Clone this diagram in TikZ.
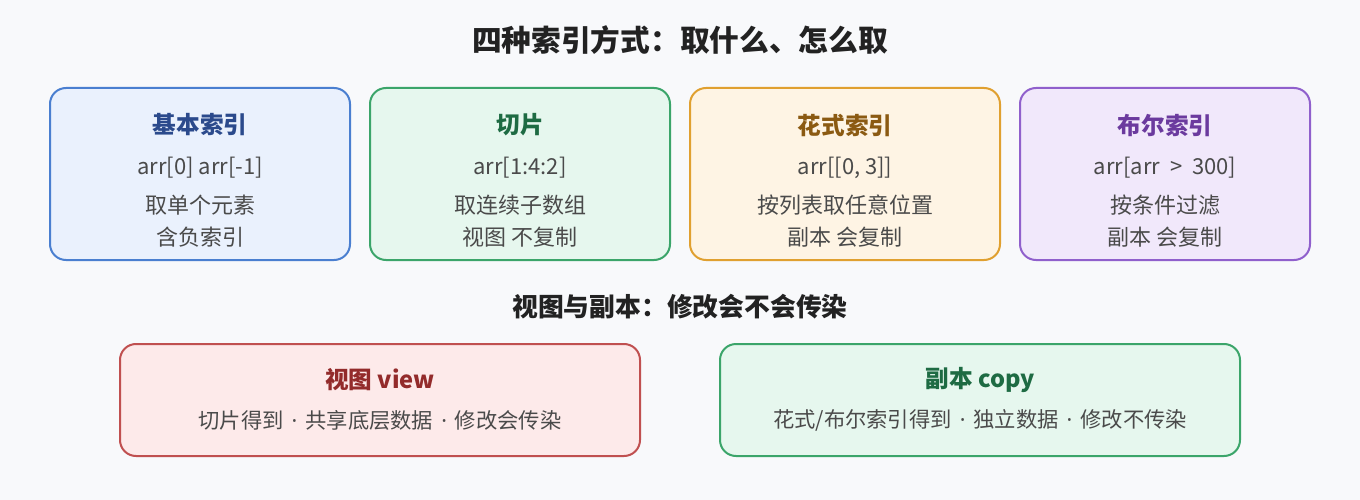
\documentclass[tikz,border=0pt]{standalone}
\usepackage{fontspec}
\setmainfont{Noto Sans CJK SC}
\newfontfamily\latinfont{Noto Sans}
\newcommand{\mdt}{\hspace{8pt}{\latinfont·}\hspace{8pt}}
\definecolor{bgc}{HTML}{F8F9FB}
\definecolor{maintxt}{HTML}{222222}
\definecolor{bodytxt}{HTML}{4A4A4A}
\definecolor{bluefill}{HTML}{EAF1FD}
\definecolor{blueline}{HTML}{4A7FD0}
\definecolor{bluetxt}{HTML}{2B4A8C}
\definecolor{greenfill}{HTML}{E6F7EE}
\definecolor{greenline}{HTML}{3BA56A}
\definecolor{greentxt}{HTML}{1E6B43}
\definecolor{orangefill}{HTML}{FEF4E4}
\definecolor{orangeline}{HTML}{E0A030}
\definecolor{orangetxt}{HTML}{8B5A12}
\definecolor{purplefill}{HTML}{F1E8FB}
\definecolor{purpleline}{HTML}{9060CC}
\definecolor{purpletxt}{HTML}{6B3A9E}
\definecolor{redfill}{HTML}{FDEAEA}
\definecolor{redline}{HTML}{C05050}
\definecolor{redtxt}{HTML}{932B2B}
\tikzset{
  card/.style={draw, line width=2pt, rounded corners=16pt, inner sep=0pt, outer sep=0pt},
  maintitle/.style={font=\fontsize{29.7}{34}\selectfont\bfseries, text=maintxt, inner sep=0pt},
  sectitle/.style={font=\fontsize{25.8}{30}\selectfont\bfseries, text=maintxt, inner sep=0pt},
  cardtitle/.style={font=\fontsize{23.6}{28}\selectfont\bfseries, inner sep=0pt},
  cardbody/.style={font=\fontsize{22}{26}\selectfont, text=bodytxt, inner sep=0pt},
  widebody/.style={font=\fontsize{21.3}{24}\selectfont, text=bodytxt, inner sep=0pt},
}
\begin{document}
\begin{tikzpicture}[x=1pt,y=-1pt]
\fill[bgc] (0,0) rectangle (1360,500);
\useasboundingbox (0,0) rectangle (1360,500);

\node[maintitle] (title) at (680,40) {四种索引方式：取什么、怎么取};

% row of four cards
\node[card, fill=bluefill, draw=blueline, minimum width=300pt, minimum height=172pt] (b1) at (200,174) {};
\node[card, fill=greenfill, draw=greenline, minimum width=300pt, minimum height=172pt] (b2) at (520,174) {};
\node[card, fill=orangefill, draw=orangeline, minimum width=310pt, minimum height=172pt] (b3) at (845,174) {};
\node[card, fill=purplefill, draw=purpleline, minimum width=290pt, minimum height=172pt] (b4) at (1165,174) {};

\node[cardtitle, text=bluetxt] (b1t) at (200,125) {基本索引};
\node[cardbody] (b1c) at (200,168) {arr[0] arr[-1]};
\node[cardbody] (b1a) at (200,205) {取单个元素};
\node[cardbody] (b1b) at (200,237) {含负索引};

\node[cardtitle, text=greentxt] (b2t) at (520,125) {切片};
\node[cardbody] (b2c) at (520,168) {arr[1:4:2]};
\node[cardbody] (b2a) at (520,205) {取连续子数组};
\node[cardbody] (b2b) at (520,237) {视图 不复制};

\node[cardtitle, text=orangetxt] (b3t) at (845,125) {花式索引};
\node[cardbody] (b3c) at (845,168) {arr[[0, 3]]};
\node[cardbody] (b3a) at (845,205) {按列表取任意位置};
\node[cardbody] (b3b) at (845,237) {副本 会复制};

\node[cardtitle, text=purpletxt] (b4t) at (1165,125) {布尔索引};
\node[cardbody] (b4c) at (1165,168) {arr[arr \ > \ 300]};
\node[cardbody] (b4a) at (1165,205) {按条件过滤};
\node[cardbody] (b4b) at (1165,237) {副本 会复制};

\node[sectitle] (sec) at (680,307) {视图与副本：修改会不会传染};

\node[card, fill=redfill, draw=redline, minimum width=520pt, minimum height=112pt] (v) at (380,400) {};
\node[card, fill=greenfill, draw=greenline, minimum width=520pt, minimum height=112pt] (c) at (980,400) {};

\node[cardtitle, text=redtxt] (vt) at (380,380) {视图 view};
\node[widebody] (vb) at (380,420) {切片得到\mdt 共享底层数据\mdt 修改会传染};
\node[cardtitle, text=greentxt] (ct) at (980,380) {副本 copy};
\node[widebody] (cb) at (980,420) {花式/布尔索引得到\mdt 独立数据\mdt 修改不传染};
\end{tikzpicture}
\end{document}
